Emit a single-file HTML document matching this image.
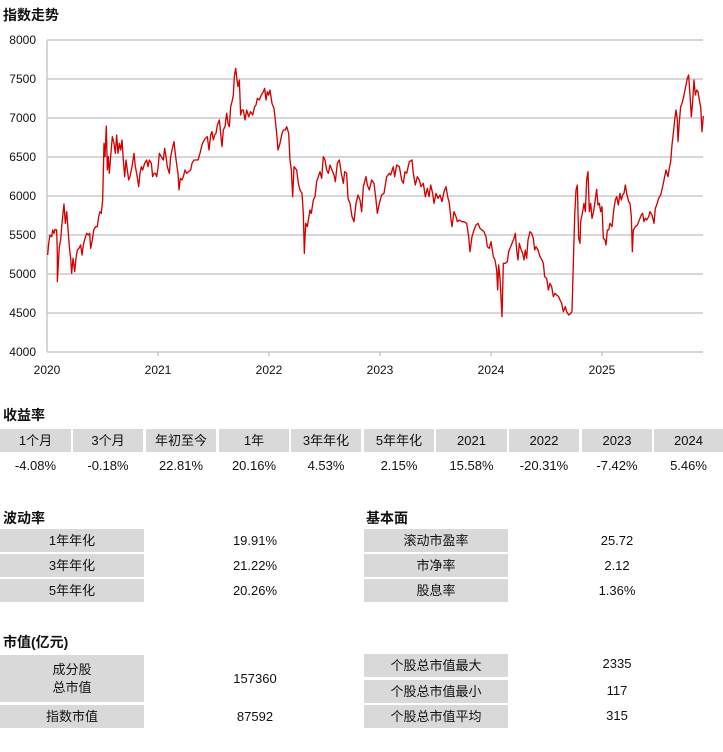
<!DOCTYPE html>
<html><head><meta charset="utf-8"><style>
body{margin:0;width:723px;height:752px;background:#fff;position:relative;overflow:hidden;font-family:"Liberation Sans","Noto Sans CJK SC",sans-serif;color:#111}
.t{position:absolute;font-weight:bold;font-size:14px;}
.c{position:absolute;background:#d9d9d9;font-size:13px;text-align:center;display:flex;align-items:center;justify-content:center;line-height:18px}
.v{position:absolute;font-size:13px;text-align:center;display:flex;align-items:center;justify-content:center}
</style></head><body>
<div class="t" style="left:3px;top:5px">指数走势</div>
<svg style="position:absolute;left:0;top:0" width="723" height="380">
<g stroke="#bfbfbf" stroke-width="1.3">
<line x1="47" x2="703" y1="40" y2="40"/><line x1="47" x2="703" y1="79" y2="79"/><line x1="47" x2="703" y1="118" y2="118"/><line x1="47" x2="703" y1="157" y2="157"/><line x1="47" x2="703" y1="196" y2="196"/><line x1="47" x2="703" y1="235" y2="235"/><line x1="47" x2="703" y1="274" y2="274"/><line x1="47" x2="703" y1="313" y2="313"/><line x1="47" x2="703" y1="352" y2="352"/>
<line x1="47" x2="47" y1="40" y2="352"/>
<line x1="158" x2="158" y1="352" y2="356"/><line x1="269" x2="269" y1="352" y2="356"/><line x1="380" x2="380" y1="352" y2="356"/><line x1="491" x2="491" y1="352" y2="356"/><line x1="602" x2="602" y1="352" y2="356"/>
</g>
<g font-size="12" fill="#111" text-anchor="end">
<text x="36" y="44">8000</text><text x="36" y="83">7500</text><text x="36" y="122">7000</text><text x="36" y="161">6500</text><text x="36" y="200">6000</text><text x="36" y="239">5500</text><text x="36" y="278">5000</text><text x="36" y="317">4500</text><text x="36" y="356">4000</text>
</g>
<g font-size="12" fill="#111" text-anchor="middle">
<text x="47" y="374">2020</text><text x="158" y="374">2021</text><text x="269" y="374">2022</text><text x="380" y="374">2023</text><text x="491" y="374">2024</text><text x="602" y="374">2025</text>
</g>
<g transform="scale(0.33333)" fill="none" stroke="#d40000" stroke-width="4" stroke-linejoin="round">
<polyline points="143,765 146,730 150,705 155,710 158,690 162,700 165,688 170,690 172,760 172,845 178,740 182,720 185,680 189,640 192,612 196,670 200,635 205,700 208,740 212,775 215,820 219,775 224,815 228,775 232,750 237,745 242,735 246,765 250,735 255,715 260,700 265,705 269,700 272,745 277,720 281,690 287,680 292,680 296,650 300,635 304,640 308,600 312,430 315,470 319,378 322,510 325,470 328,520 332,470 337,410 342,430 346,460 350,405 354,460 358,430 362,450 366,420 370,480 374,530 378,480 382,510 386,540 390,530 396,500 402,460 406,500 410,520 416,560 420,520 424,500 428,510 434,490 440,480 444,500 448,480 454,490 458,530 462,520 466,520 470,530 474,505 478,460 484,470 490,480 494,445 498,470 502,500 508,520 512,470 516,450 522,425 527,470 531,500 534,520 537,570 541,535 546,540 550,530 555,510 560,520 566,515 572,510 576,490 582,480 588,480 594,480 600,460 606,435 610,425 616,415 622,410 627,450 632,405 636,395 640,420 644,405 648,400 652,375 658,360 662,400 666,440 670,390 675,380 680,340 684,370 688,380 692,320 696,305 700,285 703,230 707,205 711,240 714,260 718,240 722,345 726,330 730,330 735,360 740,330 746,350 752,335 758,345 764,320 768,315 772,295 778,300 784,285 790,275 794,265 798,300 802,275 806,285 810,270 816,310 822,325 826,360 830,400 834,450 840,430 846,400 850,390 856,390 860,380 866,400 870,480 874,510 878,590 882,500 886,505 890,510 895,550 900,570 906,580 910,640 913,760 917,670 922,680 926,655 930,630 934,640 940,600 945,590 950,545 955,530 960,515 965,535 970,470 975,480 980,510 985,520 990,495 996,510 1002,525 1006,545 1012,490 1018,480 1024,520 1030,550 1034,515 1040,520 1044,595 1050,610 1056,650 1062,665 1068,610 1074,585 1080,600"/>
</g>
<g transform="translate(360,30) scale(0.33333)" fill="none" stroke="#d40000" stroke-width="4" stroke-linejoin="round">
<polyline points="0,510 5,545 10,470 18,440 22,465 28,480 35,450 42,460 48,510 52,550 58,520 65,495 72,490 80,440 88,430 92,435 100,410 104,440 110,405 118,410 125,450 130,460 135,425 140,430 148,395 156,390 160,430 166,465 172,440 178,450 183,470 190,460 196,500 202,475 207,500 212,465 218,490 222,520 228,490 234,505 240,495 246,515 252,485 258,470 263,500 268,520 272,560 276,590 282,545 288,560 292,575 298,570 305,575 312,575 320,580 326,620 330,665 336,620 342,600 348,585 354,580 360,595 366,600 372,605 378,620 382,650 388,655 393,635 400,680 405,690 410,720 413,780 416,705 420,745 426,860 430,700 436,700 442,695 446,665 452,650 456,640 462,625 466,610 470,660 474,690 478,640 482,655 488,670 492,690 496,660 500,685 504,630 510,605 515,610 520,625 524,660 528,650 534,660 540,680 546,690 550,700 554,740 560,745 565,780 570,760 575,770 580,800 585,790 590,795 596,800 600,810 605,820 610,845 616,830 620,845 626,855 632,850 636,845 640,700 644,560 648,480 652,465 656,625 660,640 662,575 668,545 672,520 676,545 680,450 684,425 688,545 692,520 696,565 700,550 705,515 710,478 714,525 718,520 722,545 726,530 730,625 735,630 738,645 742,600 746,600 750,580 756,590 762,535 766,510 770,500 775,525 780,490 784,510 788,495 792,490 796,465 800,490 806,515 810,520 814,560 817,665 820,600 826,590 832,585 838,570 844,555 848,550 852,575 856,565 860,570 866,560 870,545 876,555 882,580 886,535 890,525 896,505 902,495 908,470 912,450 918,420 924,440 928,415 932,395 936,345 940,310 944,270 948,240 952,270 954,335 958,275 962,230 966,220 970,205 974,185 978,165 982,145 986,135 990,195 994,260 998,215 1002,150 1006,195 1010,180 1014,185 1018,210 1022,230 1026,305 1030,258"/>
</g>
</svg>

<div class="t" style="left:3px;top:405px">收益率</div>
<div class="c" style="left:0;top:429px;width:71px;height:23px">1个月</div>
<div class="c" style="left:73px;top:429px;width:70px;height:23px">3个月</div>
<div class="c" style="left:146px;top:429px;width:70px;height:23px">年初至今</div>
<div class="c" style="left:219px;top:429px;width:70px;height:23px">1年</div>
<div class="c" style="left:291px;top:429px;width:70px;height:23px">3年年化</div>
<div class="c" style="left:364px;top:429px;width:70px;height:23px">5年年化</div>
<div class="c" style="left:436px;top:429px;width:71px;height:23px">2021</div>
<div class="c" style="left:509px;top:429px;width:70px;height:23px">2022</div>
<div class="c" style="left:582px;top:429px;width:70px;height:23px">2023</div>
<div class="c" style="left:654px;top:429px;width:69px;height:23px">2024</div>
<div class="v" style="left:0;top:454px;width:71px;height:23px">-4.08%</div>
<div class="v" style="left:73px;top:454px;width:70px;height:23px">-0.18%</div>
<div class="v" style="left:146px;top:454px;width:70px;height:23px">22.81%</div>
<div class="v" style="left:219px;top:454px;width:70px;height:23px">20.16%</div>
<div class="v" style="left:291px;top:454px;width:70px;height:23px">4.53%</div>
<div class="v" style="left:364px;top:454px;width:70px;height:23px">2.15%</div>
<div class="v" style="left:436px;top:454px;width:71px;height:23px">15.58%</div>
<div class="v" style="left:509px;top:454px;width:70px;height:23px">-20.31%</div>
<div class="v" style="left:582px;top:454px;width:70px;height:23px">-7.42%</div>
<div class="v" style="left:654px;top:454px;width:69px;height:23px">5.46%</div>

<div class="t" style="left:3px;top:508px">波动率</div>
<div class="t" style="left:366px;top:508px">基本面</div>
<div class="c" style="left:0;top:529px;width:144px;height:23px">1年年化</div>
<div class="c" style="left:0;top:554px;width:144px;height:23px">3年年化</div>
<div class="c" style="left:0;top:579px;width:144px;height:23px">5年年化</div>
<div class="v" style="left:184px;top:529px;width:142px;height:23px">19.91%</div>
<div class="v" style="left:184px;top:554px;width:142px;height:23px">21.22%</div>
<div class="v" style="left:184px;top:579px;width:142px;height:23px">20.26%</div>
<div class="c" style="left:364px;top:529px;width:144px;height:23px">滚动市盈率</div>
<div class="c" style="left:364px;top:554px;width:144px;height:23px">市净率</div>
<div class="c" style="left:364px;top:579px;width:144px;height:23px">股息率</div>
<div class="v" style="left:546px;top:529px;width:142px;height:23px">25.72</div>
<div class="v" style="left:546px;top:554px;width:142px;height:23px">2.12</div>
<div class="v" style="left:546px;top:579px;width:142px;height:23px">1.36%</div>

<div class="t" style="left:3px;top:632px">市值(亿元)</div>
<div class="c" style="left:0;top:655px;width:144px;height:47px">成分股<br>总市值</div>
<div class="c" style="left:0;top:705px;width:144px;height:23px">指数市值</div>
<div class="v" style="left:184px;top:667px;width:142px;height:23px">157360</div>
<div class="v" style="left:184px;top:705px;width:142px;height:23px">87592</div>
<div class="c" style="left:364px;top:654px;width:144px;height:23px">个股总市值最大</div>
<div class="c" style="left:364px;top:680px;width:144px;height:23px">个股总市值最小</div>
<div class="c" style="left:364px;top:705px;width:144px;height:23px">个股总市值平均</div>
<div class="v" style="left:546px;top:652px;width:142px;height:23px">2335</div>
<div class="v" style="left:546px;top:679px;width:142px;height:23px">117</div>
<div class="v" style="left:546px;top:704px;width:142px;height:23px">315</div>
</body></html>
